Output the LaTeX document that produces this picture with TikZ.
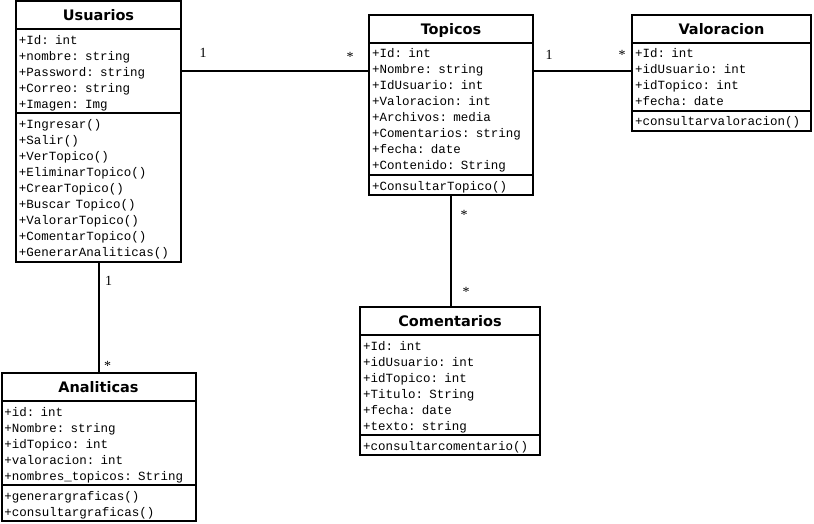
\documentclass[tikz,border=0pt]{standalone}
\usepackage{fontspec}
\setmainfont{Liberation Serif}
\newfontfamily\classfont{DejaVu Sans}
\newfontfamily\membfont{Liberation Mono}
\usetikzlibrary{positioning}

% one row of a class box: 13pt above and 3pt below the baseline
\newcommand{\rowstrut}{\rule[-3pt]{0pt}{16pt}}

\tikzset{
  classname/.style={draw, line width=2pt, anchor=north west, inner sep=0pt,
    outer sep=0pt, minimum height=28pt, text height=12pt, text depth=1pt,
    font=\classfont\bfseries\fontsize{14.5}{16}\selectfont},
  classbody/.style={draw, line width=2pt, anchor=north west, inner xsep=3pt,
    inner ysep=2pt, outer sep=0pt, align=left,
    font=\membfont\fontsize{12.5}{16}\selectfont,
    execute at begin node=\rowstrut, execute at end node=\rowstrut},
  assoc/.style={line width=2pt},
  mult/.style={inner sep=0pt, font=\fontsize{14}{16}\selectfont},
}

\begin{document}
\begin{tikzpicture}[x=1pt,y=-1pt]
  \fill[white] (0,0) rectangle (814,524);
  \useasboundingbox (0,0) rectangle (814,524);
  % Define named coordinates
  \coordinate (usuPos) at (16,1.5);
  \coordinate (topPos) at (369,15);
  \coordinate (valPos) at (632,15);
  \coordinate (anaPos) at (1.5,373);
  \coordinate (comPos) at (360,307);
  % Usuarios
  \node[classname, minimum width=165pt] (usu) at (usuPos) {Usuarios};
  \node[classbody, text width=159pt] (usuA) at (usu.south west)
    {+Id: int\\+nombre: string\\+Password: string\\+Correo: string\\+Imagen: Img};
  \node[classbody, text width=159pt] (usuM) at (usuA.south west)
    {+Ingresar()\\+Salir()\\+VerTopico()\\+EliminarTopico()\\+CrearTopico()\\+Buscar Topico()\\+ValorarTopico()\\+ComentarTopico()\\+GenerarAnaliticas()};
  % Topicos
  \node[classname, minimum width=164pt] (top) at (topPos) {Topicos};
  \node[classbody, text width=158pt] (topA) at (top.south west)
    {+Id: int\\+Nombre: string\\+IdUsuario: int\\+Valoracion: int\\+Archivos: media\\+Comentarios: string\\+fecha: date\\+Contenido: String};
  \node[classbody, text width=158pt] (topM) at (topA.south west)
    {+ConsultarTopico()};
  % Valoracion
  \node[classname, minimum width=179pt] (val) at (valPos) {Valoracion};
  \node[classbody, text width=173pt] (valA) at (val.south west)
    {+Id: int\\+idUsuario: int\\+idTopico: int\\+fecha: date};
  \node[classbody, text width=173pt] (valM) at (valA.south west)
    {+consultarvaloracion()};
  % Analiticas
  \node[classname, minimum width=194pt] (ana) at (anaPos) {Analiticas};
  \node[classbody, text width=188pt] (anaA) at (ana.south west)
    {+id: int\\+Nombre: string\\+idTopico: int\\+valoracion: int\\+nombres\_topicos: String};
  \node[classbody, text width=188pt] (anaM) at (anaA.south west)
    {+generargraficas()\\+consultargraficas()};
  % Comentarios
  \node[classname, minimum width=180pt] (com) at (comPos) {Comentarios};
  \node[classbody, text width=174pt] (comA) at (com.south west)
    {+Id: int\\+idUsuario: int\\+idTopico: int\\+Titulo: String\\+fecha: date\\+texto: string};
  \node[classbody, text width=174pt] (comM) at (comA.south west)
    {+consultarcomentario()};
  % Associations with their multiplicities
  \draw[assoc] (usuA.east) -- (usuA.east -| top.west)
    node[mult, pos=0, xshift=22pt, yshift=19pt] {1}
    node[mult, pos=1, xshift=-19pt, yshift=15pt] {*};
  \draw[assoc] (usuA.east -| top.east) -- (usuA.east -| val.west)
    node[mult, pos=0, xshift=16pt, yshift=17pt] {1}
    node[mult, pos=1, xshift=-10pt, yshift=17pt] {*};
  \draw[assoc] (topM.south) -- (topM.south |- com.north)
    node[mult, pos=0, xshift=13pt, yshift=-20pt] {*}
    node[mult, pos=1, xshift=15pt, yshift=15pt] {*};
  \draw[assoc] (usuM.south) -- (ana.north)
    node[mult, pos=0, xshift=10pt, yshift=-19pt] {1}
    node[mult, pos=1, xshift=9pt, yshift=7pt] {*};
\end{tikzpicture}
\end{document}
